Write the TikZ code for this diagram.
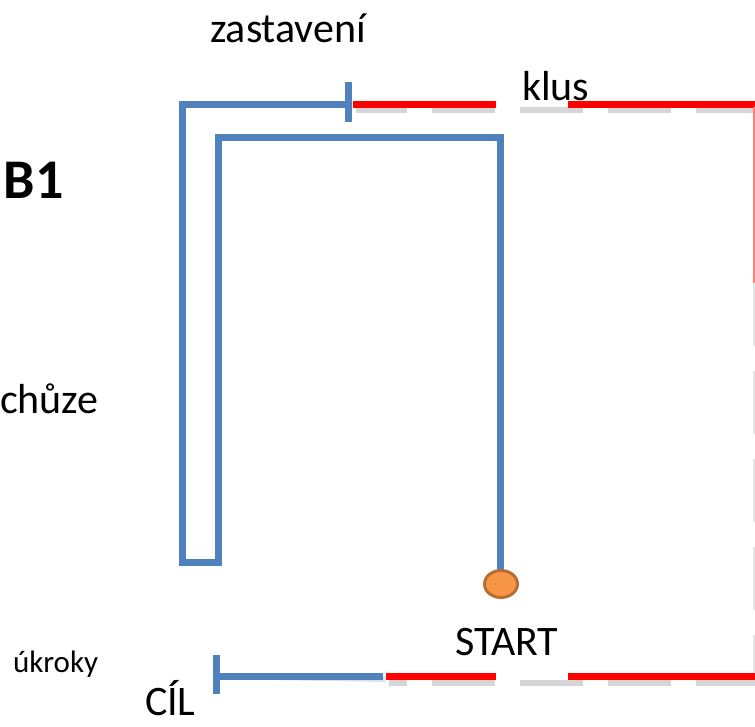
\documentclass[tikz,border=0pt]{standalone}
\usepackage{fontspec}
\setmainfont{Carlito}
\usetikzlibrary{positioning}
\definecolor{trackblue}{RGB}{79,129,189}
\definecolor{trackred}{RGB}{255,0,0}
\definecolor{startfill}{RGB}{247,150,70}
\definecolor{startedge}{RGB}{184,110,48}
\tikzset{
        every node/.style={anchor=base west,inner sep=0pt,outer sep=0pt},
        walk/.style={line width=7pt,color=trackblue},
        run/.style={line width=7pt,color=trackred},
        drop/.style={line width=6pt,color=gray!32,dash pattern=on 63pt off 25pt},
        label/.style={font=\fontsize{42}{50}\selectfont},
        }

\begin{document}
\begin{tikzpicture}[x=1pt,y=-1pt]
					\useasboundingbox (0,0) rectangle (755,726);
					\clip (0,0) rectangle (755,726);

					% points of the walk...................
					\coordinate (stop) at (348,104);
					\coordinate (oa) at (182,104);
					\coordinate (ob) at (182,562);
					\coordinate (ib) at (218,562);
					\coordinate (ia) at (218,137);
					\coordinate (ra) at (500,137);
					\coordinate (rb) at (500,572);
					\coordinate (goal) at (216,676);

					% shadows.............................
					\draw [drop,dash phase=12pt] (356,110) -- (755,110);
					\draw [drop,dash phase=45pt] (389,683) -- (755,683);
					\draw [drop,line width=2pt,color=gray!20] (754,283) -- (754,673);
					\draw [line width=6pt,color=gray!25,shift={(2,3)}] (stop) -- (oa) -- (ob) -- (ib) -- (ia) -- (ra) -- (rb);
					\draw [line width=6pt,color=gray!25,shift={(2,3)}] (goal) -- (383,676);

					% trot, top...........................
					\draw [run] (353,104) -- (496,104);
					\draw [run] (568,104) -- (755,104);
					\draw [trackred!50,line width=1.5pt] (754.2,107) -- (754.2,283);

					% trot, bottom........................
					\draw [run] (386,676.5) -- (496,676.5);
					\draw [run] (568,676.5) -- (755,676.5);

					% walk.................................
					\draw [walk,line join=miter] (stop) -- (oa) -- (ob) -- (ib) -- (ia) -- (ra) -- (rb);
					\draw [walk] (348,82) -- (348,122);

					% start point.........................
					\draw [startedge,fill=startfill,line width=3pt] (501,584) ellipse [x radius=16.5pt,y radius=13.5pt];
					\node (startpt) at (501,584) {};

					% side steps to the goal..............
					\draw [walk] (goal) -- (383,676);
					\draw [walk] (216,655) -- (216,694);

					% labels..............................
					\node [label] (stoplbl) at (210,42) {zastavení};
					\node [label] (trotlbl) at (522,100) {klus};
					\node [font=\fontsize{56}{60}\selectfont\bfseries] (partlbl) at (4,198) {B1};
					\node [label] (walklbl) at (0,413) {chůze};
					\node [font=\fontsize{31}{36}\selectfont] (sidelbl) at (13,672) {úkroky};
					\node [label] (startlbl) at (455,655) {START};
					\node [label] (goallbl) at (145,715) {CÍL};
				\end{tikzpicture}
\end{document}
